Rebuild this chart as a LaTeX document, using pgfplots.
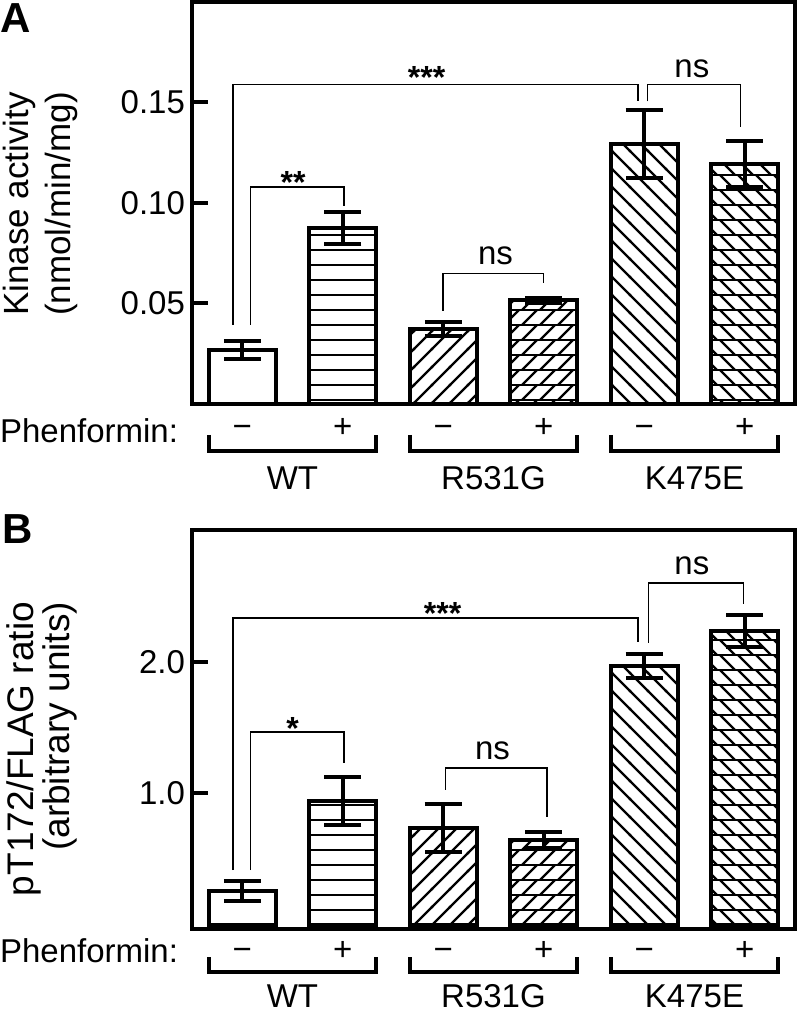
\documentclass[border=0pt]{standalone}
\usepackage{fontspec}
\setmainfont{Liberation Sans}
\usepackage{pgfplots}
\pgfplotsset{compat=1.18}
\usetikzlibrary{patterns}

% hatch fills of the bars
\pgfdeclarepatternformonly{hlines}{\pgfqpoint{-1pt}{-1pt}}{\pgfqpoint{8.5pt}{8.5pt}}{\pgfqpoint{7.5pt}{7.5pt}}{%
  \pgfsetlinewidth{1.3pt}%
  \pgfpathmoveto{\pgfqpoint{-1pt}{0pt}}\pgfpathlineto{\pgfqpoint{8.5pt}{0pt}}\pgfusepath{stroke}}
\pgfdeclarepatternformonly{nelines}{\pgfqpoint{-1pt}{-1pt}}{\pgfqpoint{10pt}{10pt}}{\pgfqpoint{9pt}{9pt}}{%
  \pgfsetlinewidth{1.1pt}%
  \pgfpathmoveto{\pgfqpoint{-0.5pt}{-0.5pt}}\pgfpathlineto{\pgfqpoint{9.5pt}{9.5pt}}\pgfusepath{stroke}}
\pgfdeclarepatternformonly{nwlines}{\pgfqpoint{-1pt}{-1pt}}{\pgfqpoint{10pt}{10pt}}{\pgfqpoint{9pt}{9pt}}{%
  \pgfsetlinewidth{1.1pt}%
  \pgfpathmoveto{\pgfqpoint{-0.5pt}{9.5pt}}\pgfpathlineto{\pgfqpoint{9.5pt}{-0.5pt}}\pgfusepath{stroke}}
\pgfdeclarepatternformonly{nebricks}{\pgfqpoint{-1pt}{-1pt}}{\pgfqpoint{10pt}{8.5pt}}{\pgfqpoint{9pt}{7.5pt}}{%
  \pgfsetlinewidth{1.3pt}%
  \pgfpathmoveto{\pgfqpoint{-1pt}{0pt}}\pgfpathlineto{\pgfqpoint{10pt}{0pt}}\pgfusepath{stroke}%
  \pgfsetlinewidth{1.1pt}%
  \pgfpathmoveto{\pgfqpoint{0pt}{0pt}}\pgfpathlineto{\pgfqpoint{7.5pt}{7.5pt}}\pgfusepath{stroke}}
\pgfdeclarepatternformonly{nwbricks}{\pgfqpoint{-1pt}{-1pt}}{\pgfqpoint{10pt}{8.5pt}}{\pgfqpoint{9pt}{7.5pt}}{%
  \pgfsetlinewidth{1.3pt}%
  \pgfpathmoveto{\pgfqpoint{-1pt}{0pt}}\pgfpathlineto{\pgfqpoint{10pt}{0pt}}\pgfusepath{stroke}%
  \pgfsetlinewidth{1.1pt}%
  \pgfpathmoveto{\pgfqpoint{0pt}{7.5pt}}\pgfpathlineto{\pgfqpoint{7.5pt}{0pt}}\pgfusepath{stroke}}

\pgfplotsset{
  panel/.style={
    scale only axis, width=301.5pt, anchor=north west,
    xmin=-0.5, xmax=5.5, xtick=\empty, ytick pos=left,
    tick align=inside, major tick length=8pt,
    tick style={line width=2pt, black},
    axis line style={line width=2pt},
    ybar, bar width=33.5pt, bar shift=0pt, clip=false,
    /pgf/number format/assume math mode=true,
    /pgf/number format/fixed, /pgf/number format/fixed zerofill,
    yticklabel style={font=\fontsize{16.5}{18}\selectfont},
  },
  mybar/.style={draw=black, line width=2pt,
    error bars/.cd, y dir=both, y explicit,
    error bar style={line width=1.8pt, black, solid},
    error mark options={rotate=90, mark size=9.25pt, line width=2pt, black}},
}
\tikzset{sig/.style={line width=0.75pt, black},
  grp/.style={line width=2pt, black},
  star/.style={anchor=base, font=\bfseries\fontsize{16}{18}\selectfont},
  low/.style={anchor=base, inner sep=0pt}}

\begin{document}
\begin{tikzpicture}[font=\fontsize{16.5}{19}\selectfont]
\path[use as bounding box] (0,0) rectangle (399pt,-507.5pt);

\node[anchor=base west, inner sep=0pt, font=\bfseries\fontsize{21}{24}\selectfont] at (0pt,-16.5pt) {A};
\node[anchor=base west, inner sep=0pt, font=\bfseries\fontsize{21}{24}\selectfont] at (1pt,-271.5pt) {B};

% ---------------- panel A ----------------
\begin{axis}[panel, at={(96pt,-1pt)}, height=201pt,
  ymin=0, ymax=0.2, ytick={0.05,0.10,0.15},
  /pgf/number format/precision=2,
  ylabel={Kinase activity\\(nmol/min/mg)},
  ylabel style={at={(axis description cs:-0.2512,0.4975)}, anchor=center,
    align=center, font=\fontsize{17.5}{21}\selectfont},
]
\addplot[fill=white, mybar] coordinates {(0,0.027) +- (0,0.0045)};
\addplot[pattern=hlines, mybar] coordinates {(1,0.0875) +- (0,0.008)};
\addplot[pattern=nelines, mybar] coordinates {(2,0.0375) +- (0,0.0035)};
\addplot[pattern=nebricks, mybar] coordinates {(3,0.0515) +- (0,0.0012)};
\addplot[pattern=nwlines, mybar] coordinates {(4,0.1295) +- (0,0.017)};
\addplot[pattern=nwbricks, mybar] coordinates {(5,0.1195) +- (0,0.0113)};

\draw[sig] (axis cs:-0.09,0.0395) |- (axis cs:3.94,0.159) -- (axis cs:3.94,0.1505);
\draw[sig] (axis cs:4.03,0.1505) |- (axis cs:4.96,0.159) -- (axis cs:4.96,0.138);
\draw[sig] (axis cs:0.08,0.0395) |- (axis cs:1.01,0.108) -- (axis cs:1.01,0.0985);
\draw[sig] (axis cs:2.0,0.0465) |- (axis cs:3.0,0.065) -- (axis cs:3.0,0.060);
\node[star] at (axis cs:1.835,0.157) {***};
\node[anchor=base] at (axis cs:4.474,0.1625) {ns};
\node[star] at (axis cs:0.506,0.1045) {**};
\node[anchor=base] at (axis cs:2.52,0.0695) {ns};

\node[low, anchor=base east] at ([yshift=-19.5pt]axis cs:-0.635,0) {Phenformin:};
\node[low] at ([yshift=-16.75pt]axis cs:0,0) {−};
\node[low] at ([yshift=-16.75pt]axis cs:1,0) {+};
\node[low] at ([yshift=-16.75pt]axis cs:2,0) {−};
\node[low] at ([yshift=-16.75pt]axis cs:3,0) {+};
\node[low] at ([yshift=-16.75pt]axis cs:4,0) {−};
\node[low] at ([yshift=-16.75pt]axis cs:5,0) {+};
\draw[grp] ([yshift=-15.5pt]axis cs:-0.33,0) -- ([yshift=-23.5pt]axis cs:-0.33,0)
  -- ([yshift=-23.5pt]axis cs:1.33,0) -- ([yshift=-15.5pt]axis cs:1.33,0);
\draw[grp] ([yshift=-15.5pt]axis cs:1.67,0) -- ([yshift=-23.5pt]axis cs:1.67,0)
  -- ([yshift=-23.5pt]axis cs:3.33,0) -- ([yshift=-15.5pt]axis cs:3.33,0);
\draw[grp] ([yshift=-15.5pt]axis cs:3.67,0) -- ([yshift=-23.5pt]axis cs:3.67,0)
  -- ([yshift=-23.5pt]axis cs:5.33,0) -- ([yshift=-15.5pt]axis cs:5.33,0);
\node[low] at ([yshift=-43pt]axis cs:0.5,0) {WT};
\node[low] at ([yshift=-43pt]axis cs:2.5,0) {R531G};
\node[low] at ([yshift=-43pt]axis cs:4.5,0) {K475E};
\end{axis}

% ---------------- panel B ----------------
\begin{axis}[panel, at={(96pt,-265pt)}, height=199.5pt,
  ymin=-0.03, ymax=3.0, ytick={1,2},
  /pgf/number format/precision=1,
  ylabel={pT172/FLAG ratio\\(arbitrary units)},
  ylabel style={at={(axis description cs:-0.2496,0.451)}, anchor=center,
    align=right, font=\fontsize{18.5}{18}\selectfont},
]
\addplot[fill=white, mybar] coordinates {(0,0.26) +- (0,0.075)};
\addplot[pattern=hlines, mybar] coordinates {(1,0.942) +- (0,0.18)};
\addplot[pattern=nelines, mybar] coordinates {(2,0.737) +- (0,0.18)};
\addplot[pattern=nebricks, mybar] coordinates {(3,0.646) +- (0,0.06)};
\addplot[pattern=nwlines, mybar] coordinates {(4,1.968) +- (0,0.09)};
\addplot[pattern=nwbricks, mybar] coordinates {(5,2.234) +- (0,0.12)};

\draw[sig] (axis cs:-0.09,0.418) |- (axis cs:3.94,2.333) -- (axis cs:3.94,2.150);
\draw[sig] (axis cs:4.04,2.143) |- (axis cs:4.99,2.599) -- (axis cs:4.99,2.439);
\draw[sig] (axis cs:0.08,0.418) |- (axis cs:1.01,1.467) -- (axis cs:1.01,1.231);
\draw[sig] (axis cs:2.02,1.026) |- (axis cs:3.03,1.193) -- (axis cs:3.03,0.821);
\node[star] at (axis cs:1.994,2.28) {***};
\node[anchor=base] at (axis cs:4.474,2.66) {ns};
\node[star] at (axis cs:0.5,1.406) {*};
\node[anchor=base] at (axis cs:2.49,1.254) {ns};

\node[low, anchor=base east] at ([yshift=-18.5pt]axis cs:-0.635,0) {Phenformin:};
\node[low] at ([yshift=-17.75pt]axis cs:0,0) {−};
\node[low] at ([yshift=-17.75pt]axis cs:1,0) {+};
\node[low] at ([yshift=-17.75pt]axis cs:2,0) {−};
\node[low] at ([yshift=-17.75pt]axis cs:3,0) {+};
\node[low] at ([yshift=-17.75pt]axis cs:4,0) {−};
\node[low] at ([yshift=-17.75pt]axis cs:5,0) {+};
\draw[grp] ([yshift=-16pt]axis cs:-0.33,0) -- ([yshift=-23.5pt]axis cs:-0.33,0)
  -- ([yshift=-23.5pt]axis cs:1.33,0) -- ([yshift=-16pt]axis cs:1.33,0);
\draw[grp] ([yshift=-16pt]axis cs:1.67,0) -- ([yshift=-23.5pt]axis cs:1.67,0)
  -- ([yshift=-23.5pt]axis cs:3.33,0) -- ([yshift=-16pt]axis cs:3.33,0);
\draw[grp] ([yshift=-16pt]axis cs:3.67,0) -- ([yshift=-23.5pt]axis cs:3.67,0)
  -- ([yshift=-23.5pt]axis cs:5.33,0) -- ([yshift=-16pt]axis cs:5.33,0);
\node[low] at ([yshift=-41pt]axis cs:0.5,0) {WT};
\node[low] at ([yshift=-41pt]axis cs:2.5,0) {R531G};
\node[low] at ([yshift=-41pt]axis cs:4.5,0) {K475E};
\end{axis}
\end{tikzpicture}
\end{document}
